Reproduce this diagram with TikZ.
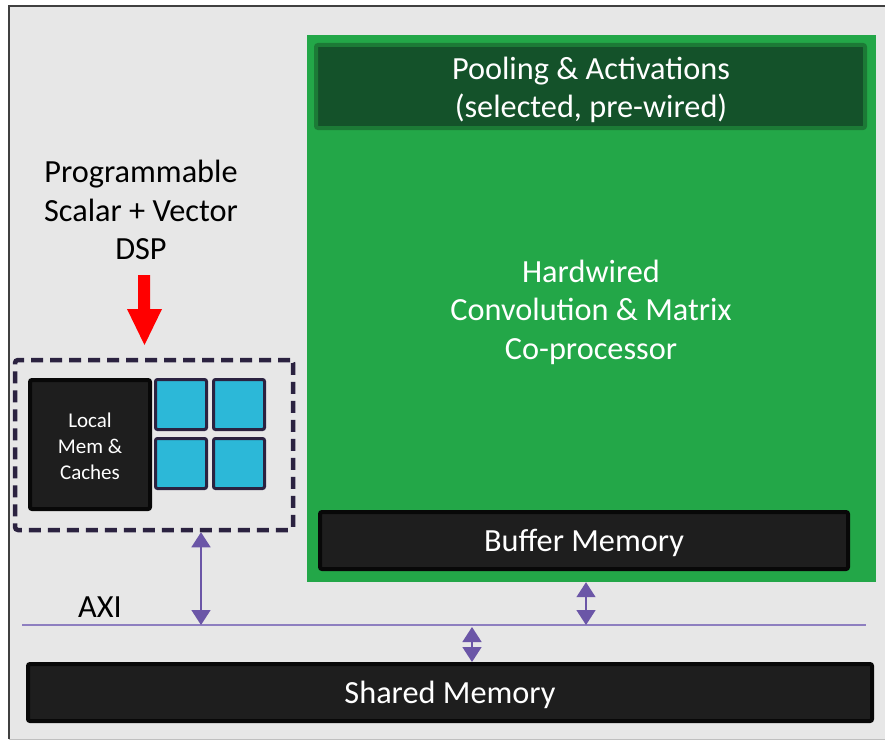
\documentclass[tikz,border=0pt]{standalone}
\usepackage{fontspec}
\setmainfont{Carlito}
\usetikzlibrary{arrows.meta}
\definecolor{bgc}{HTML}{E7E7E7}
\definecolor{grn}{HTML}{23A748}
\definecolor{grnb}{HTML}{1C7A36}
\definecolor{grnd}{HTML}{14522A}
\definecolor{blk}{HTML}{1E1E1E}
\definecolor{blkb}{HTML}{080808}
\definecolor{navy}{HTML}{2B2240}
\definecolor{cyanb}{HTML}{2CB8D8}
\definecolor{purp}{HTML}{6B56A7}
\definecolor{axic}{HTML}{8E7FC0}
\tikzset{
  bigtxt/.style={font=\fontsize{32.3}{38.5}\selectfont, align=center, inner sep=0pt},
  smalltxt/.style={font=\fontsize{21}{26}\selectfont, align=center, inner sep=0pt, text=white},
  darkbox/.style={draw=blkb, fill=blk, line width=4pt, rounded corners=2pt, inner sep=0pt},
  corebox/.style={draw=navy, fill=cyanb, line width=3pt, rounded corners=2pt, minimum width=51pt, minimum height=50pt, inner sep=0pt},
  busarrow/.style={draw=purp, line width=1.6pt, {Triangle[width=19pt,length=15pt]}-{Triangle[width=19pt,length=15pt]}},
}
\begin{document}
\begin{tikzpicture}[x=1pt,y=-1pt]
\useasboundingbox (0,0) rectangle (885,741);
% frame
\fill[white] (0,0) rectangle (885,741);
\fill[bgc] (9,6) rectangle (890,739);
\draw[color=black!75, line width=1.2pt] (9,739) -- (9,6) -- (890,6);
\draw[color=black!25, line width=1pt] (9,739) -- (890,739);

% green coprocessor
\node[fill=grn, minimum width=569pt, minimum height=547pt, inner sep=0pt] (cop) at (591.5,308.5) {};
\node[draw=grnb, fill=grnd, line width=4pt, rounded corners=2pt, minimum width=549pt, minimum height=83pt, inner sep=0pt] (pool) at (590.5,86.5) {};
\node[bigtxt, text=white] (pooltxt) at (591,90) {Pooling \& Activations\\(selected, pre-wired)};
\node[bigtxt, text=white] (coptxt) at (591,312) {Hardwired\\Convolution \& Matrix\\Co-processor};
\node[darkbox, minimum width=528pt, minimum height=57pt] (buf) at (584,540.5) {};
\node[bigtxt, text=white] (buftxt) at (584,543) {Buffer Memory};

% DSP
\node[bigtxt, text=black] (dsptxt) at (141,210) {Programmable\\Scalar + Vector\\DSP};
\fill[red] (138,275) -- (150,275) -- (150,309) -- (162,309) -- (144.5,345) -- (127,309) -- (138,309) -- cycle;
\node[draw=navy, line width=4.5pt, dash pattern=on 12pt off 7pt, rounded corners=3pt, minimum width=278pt, minimum height=170pt, inner sep=0pt] (dsp) at (154,445) {};
\node[darkbox, minimum width=120pt, minimum height=129pt] (lmem) at (90,444.5) {};
\node[smalltxt] (lmemtxt) at (90,446) {Local\\Mem \&\\Caches};
\node[corebox] (c1) at (181,404.5) {};
\node[corebox] (c2) at (239,404.5) {};
\node[corebox] (c3) at (181,463.5) {};
\node[corebox] (c4) at (239,463.5) {};

% AXI bus
\coordinate (axiL) at (22,625);
\coordinate (axiR) at (866,625);
\draw[axic, line width=1.3pt] (axiL) -- (axiR);
\node[bigtxt, text=black] (axitxt) at (100,607) {AXI};

% shared memory
\node[darkbox, minimum width=844pt, minimum height=57pt] (shm) at (450,692.5) {};
\node[bigtxt, text=white] (shmtxt) at (450,695) {Shared Memory};

% bus connections
\coordinate (b1) at (201,625);
\coordinate (b2) at (586,625);
\coordinate (b3) at (472,627);
\draw[busarrow] (b1 |- dsp.south) -- (b1);
\draw[busarrow] (b2 |- cop.south) -- (b2);
\draw[busarrow] (b3) -- (b3 |- shm.north);
\end{tikzpicture}
\end{document}
